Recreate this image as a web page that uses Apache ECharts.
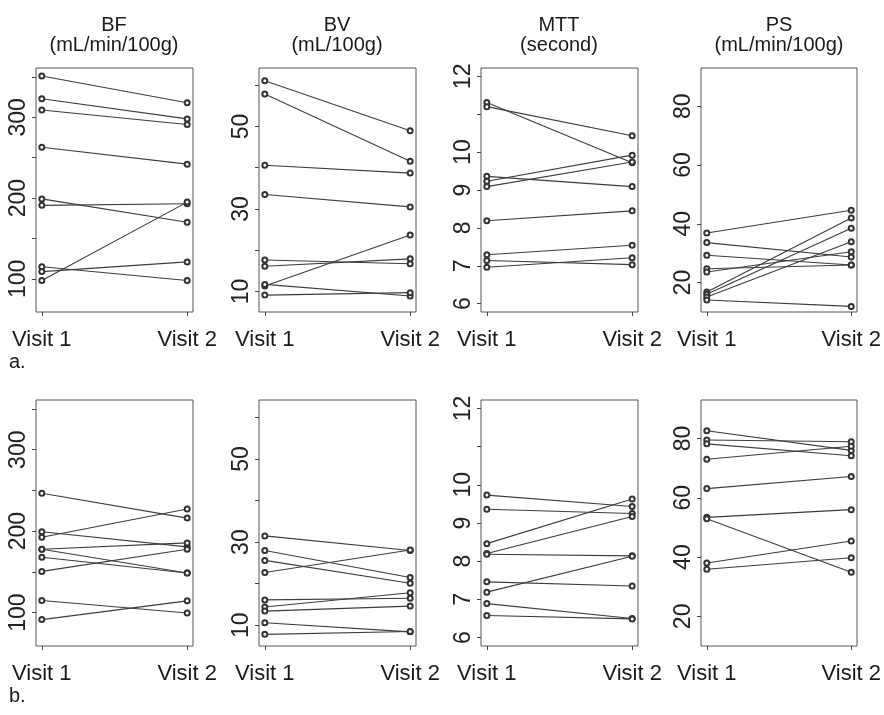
<!DOCTYPE html>
<html>
<head>
<meta charset="utf-8">
<script src="https://cdn.jsdelivr.net/npm/echarts@6/dist/echarts.min.js"></script>
<style>
  html, body { margin: 0; padding: 0; background: #fff; }
  #chart { width: 884px; height: 715px; }
</style>
</head>
<body>
<div id="chart"></div>
<script>
var visits = ['Visit 1', 'Visit 2'];

// row a. (visit 1 / visit 2 per subject)
var bfA1 = [351, 323, 309, 263, 199, 191, 98, 115, 109];
var bfA2 = [318, 298, 291, 242, 170, 193, 195, 98, 121];
var bvA1 = [61.1, 57.9, 40.6, 33.5, 17.6, 16.1, 11.3, 11.7, 9.1];
var bvA2 = [49.0, 41.6, 38.7, 30.5, 16.7, 17.9, 23.7, 8.9, 9.7];
var mttA1 = [11.31, 11.20, 9.36, 9.23, 9.09, 8.19, 7.29, 7.14, 6.96];
var mttA2 = [9.72, 10.43, 9.09, 9.92, 9.74, 8.45, 7.54, 7.03, 7.21];
var psA1 = [36.9, 33.6, 29.3, 24.7, 23.6, 16.8, 16.0, 15.1, 14.1];
var psA2 = [44.6, 28.7, 26.0, 26.0, 30.5, 42.0, 38.5, 33.9, 11.9];

// row b.
var bfB1 = [246.5, 199.2, 192.6, 177.8, 177.8, 167.9, 150.6, 114.8, 91.4];
var bfB2 = [216.0, 180.7, 227.2, 185.6, 148.6, 148.6, 177.8, 99.6, 114.4];
var bvB1 = [31.5, 28.0, 25.6, 22.7, 16.1, 14.4, 13.4, 10.6, 7.8];
var bvB2 = [28.0, 21.5, 20.1, 28.1, 16.5, 17.8, 14.6, 8.4, 8.5];
var mttB1 = [9.73, 9.36, 8.46, 8.20, 8.18, 7.46, 7.19, 6.89, 6.58];
var mttB2 = [9.43, 9.25, 9.63, 9.17, 8.14, 7.35, 8.13, 6.50, 6.49];
var psB1 = [82.6, 79.5, 78.2, 73.0, 63.1, 53.4, 52.9, 38.0, 35.9];
var psB2 = [76.0, 78.9, 74.2, 77.4, 67.2, 56.0, 34.9, 45.4, 39.8];

// axis ticks / labels
var bfTicks = [100, 150, 200, 250, 300, 350];
var bfLabels = [100, 200, 300];
var bvTicks = [10, 20, 30, 40, 50, 60];
var bvLabels = [10, 30, 50];
var mttTicks = [6, 7, 8, 9, 10, 11, 12];
var mttLabels = [6, 7, 8, 9, 10, 12];
var psTicks = [20, 40, 60, 80];
var psLabels = [20, 40, 60, 80];

var titles = ['BF', 'BV', 'MTT', 'PS'];
var units = ['(mL/min/100g)', '(mL/100g)', '(second)', '(mL/min/100g)'];

var cols = [
  { left: 36, ticks: bfTicks, labels: bfLabels, min: 59, max: 361 },
  { left: 259, ticks: bvTicks, labels: bvLabels, min: 5, max: 64.2 },
  { left: 481, ticks: mttTicks, labels: mttLabels, min: 5.78, max: 12.22 },
  { left: 701, ticks: psTicks, labels: psLabels, min: 10, max: 93 }
];
var rows = [
  { top: 68, height: 244, data: [[bfA1, bfA2], [bvA1, bvA2], [mttA1, mttA2], [psA1, psA2]] },
  { top: 400, height: 246, data: [[bfB1, bfB2], [bvB1, bvB2], [mttB1, mttB2], [psB1, psB2]] }
];

var grids = [], xAxes = [], yAxes = [], series = [], graphics = [];
var font = 'Liberation Sans, Arial, sans-serif';

rows.forEach(function (row, r) {
  cols.forEach(function (col, c) {
    var idx = grids.length;
    grids.push({
      left: col.left, top: row.top, width: 157, height: row.height,
      show: true, borderColor: '#555', borderWidth: 1, backgroundColor: 'transparent'
    });
    xAxes.push({
      type: 'value', gridIndex: idx, min: 0.96, max: 2.04,
      axisLine: { show: false },
      splitLine: { show: false },
      axisTick: { show: true, length: 4, lineStyle: { color: '#444' }, customValues: [1, 2] },
      axisLabel: {
        customValues: [1, 2], margin: 17, fontSize: 22, color: '#1a1a1a', fontFamily: font,
        formatter: function (v) { return visits[Math.round(v) - 1]; }
      }
    });
    yAxes.push({
      type: 'value', gridIndex: idx, min: col.min, max: col.max,
      axisLine: { show: false },
      splitLine: { show: false },
      axisTick: { show: true, length: 4, lineStyle: { color: '#444' }, customValues: col.ticks },
      axisLabel: {
        customValues: col.labels, rotate: 90, margin: 6, fontSize: 23,
        color: '#222', fontFamily: font
      }
    });
    var v1 = row.data[c][0], v2 = row.data[c][1];
    for (var i = 0; i < v1.length; i++) {
      series.push({
        type: 'line', xAxisIndex: idx, yAxisIndex: idx,
        data: [[1, v1[i]], [2, v2[i]]],
        symbol: 'emptyCircle', symbolSize: 5,
        itemStyle: { color: '#333', borderWidth: 0.8 },
        lineStyle: { color: '#3c3c3c', width: 1.1 },
        silent: true, animation: false
      });
    }
  });
});

cols.forEach(function (col, c) {
  var cx = col.left + 78;
  graphics.push({ type: 'text', x: cx, y: 25, style: { text: titles[c], font: '20px ' + font, fill: '#1a1a1a', textAlign: 'center', textVerticalAlign: 'middle' } });
  graphics.push({ type: 'text', x: cx, y: 45, style: { text: units[c], font: '20px ' + font, fill: '#1a1a1a', textAlign: 'center', textVerticalAlign: 'middle' } });
});
graphics.push({ type: 'text', x: 9, y: 362, style: { text: 'a.', font: '20px ' + font, fill: '#1a1a1a', textVerticalAlign: 'middle' } });
graphics.push({ type: 'text', x: 9, y: 696, style: { text: 'b.', font: '20px ' + font, fill: '#1a1a1a', textVerticalAlign: 'middle' } });

var myChart = echarts.init(document.getElementById('chart'));
myChart.setOption({
  backgroundColor: '#fff',
  animation: false,
  grid: grids,
  xAxis: xAxes,
  yAxis: yAxes,
  series: series,
  graphic: graphics
});
</script>
</body>
</html>
